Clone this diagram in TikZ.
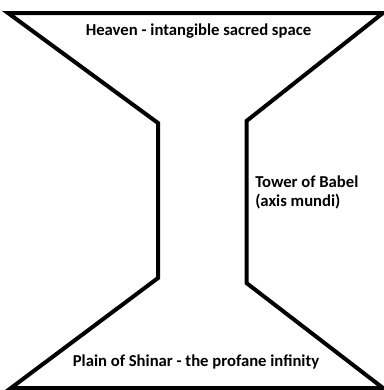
\documentclass[tikz,border=0pt]{standalone}
\usepackage{fontspec}
\setmainfont{Carlito}
\begin{document}
\begin{tikzpicture}[x=0.75pt,y=-0.75pt,
  outline/.style={draw=black,line width=3pt,line join=miter},
  lbl/.style={font=\fontsize{12.5}{14.3}\selectfont\bfseries,inner sep=0pt}]
\fill[white] (0,0) rectangle (384,390);
\useasboundingbox (0,0) rectangle (384,390);
\coordinate (tl) at (8,13);
\coordinate (tr) at (383,13);
\coordinate (rt) at (246.5,121);
\coordinate (rb) at (246.5,283);
\coordinate (br) at (383,388);
\coordinate (bl) at (11,388);
\coordinate (lb) at (158,278);
\coordinate (lt) at (158,123);
\draw[outline] (tl) -- (tr) -- (rt) -- (rb) -- (br) -- (bl) -- (lb) -- (lt) -- cycle;
\node[lbl] (heaven) at (198.5,31) {Heaven - intangible sacred space};
\node[lbl] (plain) at (196,362) {Plain of Shinar - the profane infinity};
\node[lbl,anchor=west,align=left] (tower) at (255,192.5) {Tower of Babel\\(axis mundi)};
\end{tikzpicture}
\end{document}
